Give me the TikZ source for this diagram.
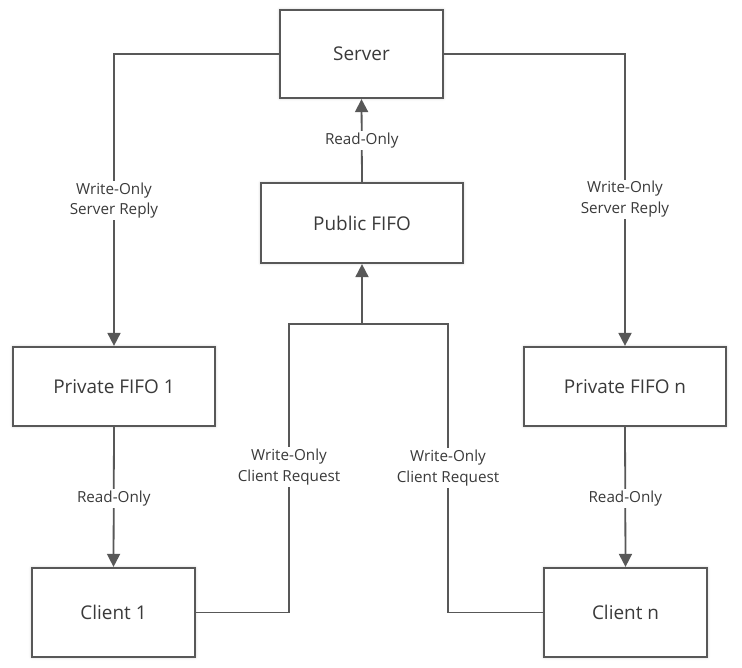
\documentclass[tikz,border=0pt]{standalone}
\usepackage{fontspec}
\setmainfont{Open Sans}
\usetikzlibrary{arrows.meta,shadows.blur}
\definecolor{linec}{HTML}{585858}
\definecolor{textc}{HTML}{3A3A3A}
\begin{document}
\begin{tikzpicture}[x=1bp,y=-1bp,
  box/.style={draw=linec, line width=2.2bp, fill=white, minimum width=#1, text=textc, font=\fontsize{19}{22}\selectfont, inner sep=0pt,
    blur shadow={shadow xshift=0bp, shadow yshift=0bp, shadow blur radius=3bp, shadow opacity=25}},
  box/.default=163bp,
  conn/.style={draw=linec, line width=1.8bp},
  arr/.style={conn, -{Triangle[length=13bp,width=13bp]}},
  lab/.style={fill=white, text=textc, font=\fontsize{15.3}{21}\selectfont, align=center, inner sep=1.5bp}]
\useasboundingbox (0,0) rectangle (742,668);
\node[box, minimum height=88bp] (server) at (361.5,54) {Server};
\node[box=202bp, minimum height=80bp] (pub) at (362,223) {Public FIFO};
\node[box=202bp, minimum height=79bp] (p1) at (114,386.5) {Private FIFO 1};
\node[box=202bp, minimum height=79bp] (pn) at (625,386.5) {Private FIFO n};
\node[box, minimum height=89bp] (c1) at (113.5,612.5) {Client 1};
\node[box, minimum height=89bp] (cn) at (625.5,612.5) {Client n};
\coordinate (j) at (362,324);
\coordinate (k1) at (289,324);
\coordinate (kn) at (448,324);
% server to private fifos
\draw[arr] (server.west) -| (p1.north) node[lab, pos=0.751] {Write-Only\\Server Reply};
\draw[arr] (server.east) -| (pn.north) node[lab, pos=0.749] {Write-Only\\Server Reply};
% public fifo to server
\draw[arr] (pub.north) -- (server.south) node[lab, pos=0.5] {Read-Only};
% private fifos to clients
\draw[arr] (p1.south) -- (c1.north) node[lab, pos=0.51] {Read-Only};
\draw[arr] (pn.south) -- (cn.north) node[lab, pos=0.51] {Read-Only};
% clients to public fifo
\draw[conn] (c1.east) -| (k1) -- (j);
\draw[conn] (cn.west) -| (kn) -- (j);
\draw[arr] (j) -- (pub.south);
\node[lab] (l1) at (289,467) {Write-Only\\Client Request};
\node[lab] (l2) at (448,468) {Write-Only\\Client Request};
\end{tikzpicture}
\end{document}
